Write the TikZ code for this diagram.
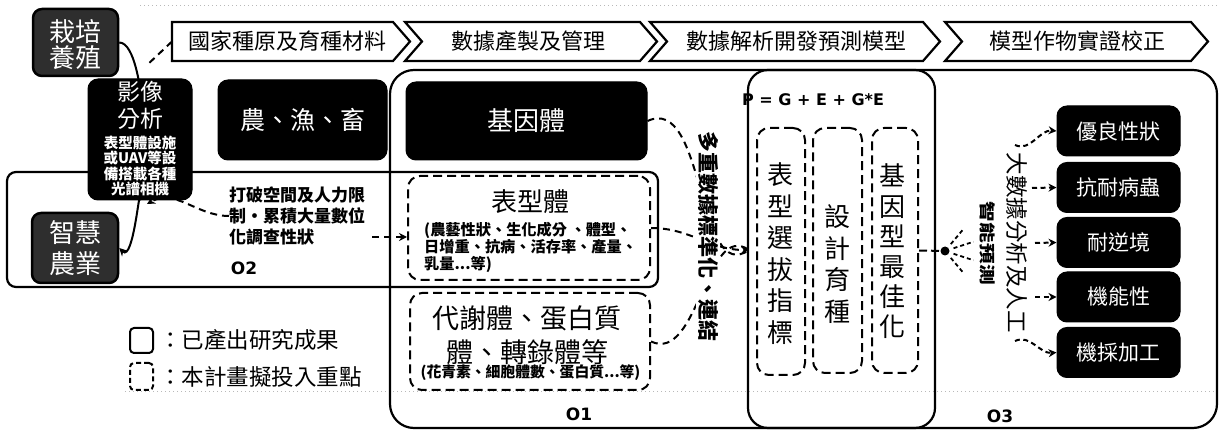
\documentclass[tikz,border=0pt]{standalone}
\usepackage{fontspec}
\setmainfont{Noto Sans CJK TC}
\newfontfamily\latb{DejaVu Sans}
\usetikzlibrary{arrows.meta,calc}
\newcommand{\myfs}[2]{\fontsize{#1}{#2}\selectfont}
\begin{document}
\begin{tikzpicture}[x=1pt,y=-1pt,
  lw/.style={line width=2.2pt},
  blk/.style={fill=black,draw=black,line width=1pt,rounded corners=10pt,text=white,inner sep=0pt},
  nz/.style={fill=black!82,draw=black,line width=2.5pt,rounded corners=9pt,inner sep=0pt},
  dbox/.style={draw,line width=2pt,dash pattern=on 9pt off 5pt,rounded corners=12pt,inner sep=0pt},
  conn/.style={line width=2pt,dash pattern=on 7pt off 5pt},
  conns/.style={line width=2pt,dash pattern=on 5pt off 3.5pt},
  tip/.style={-{Stealth[length=8pt,width=8pt]}},
  wt/.style={text=white,inner sep=0pt,align=center},
  tx/.style={inner sep=0pt,align=center},
  chev/.style={line width=2.2pt,fill=white,line join=miter},
]
\useasboundingbox (0,0) rectangle (1219,430);

% faint scan lines
\draw[gray!55,line width=0.7pt,dash pattern=on 1pt off 3pt] (140,5) -- (1219,5);
\draw[gray!55,line width=0.7pt,dash pattern=on 1pt off 3pt] (125,391) -- (1217,391);

% frames
\node[draw,lw,rounded corners=24pt,minimum width=827pt,minimum height=358pt,inner sep=0pt] (big) at (803.5,249) {};
\node[draw,lw,rounded corners=9pt,minimum width=651pt,minimum height=115pt,inner sep=0pt] (o2) at (332.5,229.5) {};
\node[draw,lw,rounded corners=20pt,minimum width=187pt,minimum height=358pt,inner sep=0pt] (pbox) at (841.5,249) {};

% banner chevrons
\draw[chev] (172,22) -- (393,22) -- (410,41.5) -- (393,61) -- (172,61) -- cycle;
\foreach \L/\R in {405/657, 650/940, 945/1208}
  \draw[chev] (\L,22) -- (\R-17,22) -- (\R,41.5) -- (\R-17,61) -- (\L,61) -- (\L+17,41.5) -- cycle;
\node[tx,font=\myfs{22}{22}] (c1) at (287.5,41.5) {國家種原及育種材料};
\node[tx,font=\myfs{22}{22}] (c2) at (528.5,41.5) {數據產製及管理};
\node[tx,font=\myfs{22}{22}] (c3) at (796,41.5) {數據解析開發預測模型};
\node[tx,font=\myfs{22}{22}] (c4) at (1077,41.5) {模型作物實證校正};
\coordinate (c1w) at (172,41.5);
\coordinate (dl) at (146,66);

% left column
\node[nz,minimum width=85pt,minimum height=67pt] (zp) at (75.5,42.5) {};
\node[wt,font=\myfs{26}{26}] (zpt) at (75.5,45) {栽培\\養殖};
\node[blk,minimum width=104pt,minimum height=121pt] (yx) at (140,139.5) {};
\node[wt,font=\myfs{23}{27}] (yxt) at (140,105.5) {影像\\分析};
\node[wt,font=\bfseries\myfs{14.5}{15.5}] (yxs) at (140,166) {表型體設施\\或UAV等設\\備搭載各種\\光譜相機};
\node[nz,minimum width=86pt,minimum height=70pt] (zh) at (75,248) {};
\node[wt,font=\myfs{26}{31}] (zht) at (75,248) {智慧\\農業};

% O1 column
\node[blk,minimum width=169pt,minimum height=80pt,font=\myfs{25}{25}] (nyc) at (302.5,120) {農、漁、畜};
\node[blk,minimum width=241pt,minimum height=78pt,font=\myfs{26}{26}] (jy) at (526.5,121) {基因體};
\node[dbox,minimum width=242pt,minimum height=104pt] (phen) at (529,228) {};
\node[tx,font=\myfs{26}{26}] (phent) at (530,202) {表型體};
\node[tx,align=left,anchor=west,font=\bfseries\myfs{15.2}{17}] (phens) at (424,247) {(農藝性狀、生化成分 、體型、\\日增重、抗病、活存率、產量、\\乳量...等)};
\node[dbox,minimum width=240pt,minimum height=97pt] (meta) at (530,341.5) {};
\node[tx,font=\myfs{27}{34}] (metat) at (527,335) {代謝體、蛋白質\\體、轉錄體等};
\node[tx,font=\bfseries\myfs{14.8}{15}] (metas) at (530.5,373) {(花青素、細胞體數、蛋白質...等)};

% O2 text
\node[tx,align=left,anchor=west,font=\bfseries\myfs{17}{21}] (o2t) at (229,216) {打破空間及人力限\\制・累積大量數位\\化調查性狀};
\node[font=\latb\bfseries\myfs{17}{17},inner sep=0pt] (o2l) at (244,268) {O2};
\node[font=\latb\bfseries\myfs{17}{17},inner sep=0pt] (o1l) at (579,414) {O1};
\node[font=\latb\bfseries\myfs{17}{17},inner sep=0pt] (o3l) at (1000,416) {O3};

% P box contents
\node[tx,font=\latb\bfseries\myfs{16}{16}] (pge) at (813,100) {P = G + E + G*E};
\node[dbox,minimum width=48pt,minimum height=247pt] (d1) at (781,251.5) {};
\node[tx,font=\myfs{26}{31.5}] (d1t) at (780,253.5) {表\\型\\選\\拔\\指\\標};
\node[dbox,minimum width=49pt,minimum height=245pt] (d2) at (837.5,250.5) {};
\node[tx,font=\myfs{26}{31.8}] (d2t) at (837,264) {設\\計\\育\\種};
\node[dbox,minimum width=46pt,minimum height=245pt] (d3) at (895,250.5) {};
\node[tx,font=\myfs{26}{30.2}] (d3t) at (892,251.5) {基\\因\\型\\最\\佳\\化};

% right boxes
\foreach \n/\y/\t in {r1/131/優良性狀, r2/187.5/抗耐病蟲, r3/242.5/耐逆境, r4/297/機能性, r5/352.5/機採加工}
  \node[blk,minimum width=123pt,minimum height=50pt,font=\myfs{21}{21}] (\n) at (1118.5,\y) {\t};

% legend
\node[draw,line width=2pt,rounded corners=4pt,minimum width=23pt,minimum height=25pt,inner sep=0pt] (lg1) at (141.5,340.5) {};
\node[tx,anchor=west,font=\myfs{22.5}{22.5}] (lg1t) at (159,340) {：已產出研究成果};
\node[draw,line width=2pt,dash pattern=on 5pt off 3pt,rounded corners=4pt,minimum width=23pt,minimum height=27pt,inner sep=0pt] (lg2) at (141.5,376.5) {};
\node[tx,anchor=west,font=\myfs{22.5}{22.5}] (lg2t) at (159,377) {：本計畫擬投入重點};

% left connectors
\draw[line width=2pt,tip] (zp.east) to[out=0,in=-90] (yx.north);
\draw[conn] (c1w) -- (dl);
\draw[line width=2pt,tip] (yx.south) to[out=90,in=-45] (zh.east);
\coordinate (yb) at (147,204);
\draw[conn,tip] (o2t.west) to[out=180,in=30] (yb);
\coordinate (pa) at (372,237);
\draw[conn,tip] (pa) -- (phen.west |- pa);

% converging to P box
\coordinate (T) at (749,250);
\draw[conn] (jy.east) to[out=25,in=-145] (T);
\draw[conn] (meta.east) to[out=-25,in=145] (T);
\draw[conn,tip] (phen.east) to[out=0,in=180] (T);
\node[tx,rotate=-90,fill=white,inner sep=1.5pt,font=\bfseries\myfs{21}{21}] (std) at (708,237) {多重數據標準化、連結};

% spray to the right
\coordinate (S) at (945,251);
\draw[line width=2pt,dash pattern=on 8pt off 4pt] (d3.east) -- (S);
\fill (S) circle (4.5pt);
\foreach \a in {-50,-18,18,50}
  \draw[line width=1.8pt,dash pattern=on 4pt off 3pt] ($(S)+(\a:9)$) -- ($(S)+(\a:30)$);
\node[tx,rotate=-90,fill=white,inner sep=1pt,font=\myfs{22.5}{22.5}] (bd1) at (1017,243) {大數據分析及人工};
\node[tx,rotate=-90,xscale=1.3,fill=white,inner sep=1pt,font=\bfseries\myfs{16}{16}] (bd2) at (987.5,243.5) {智能預測};
\coordinate (a1) at (1015,145);
\coordinate (a2) at (1032,188);
\coordinate (a3) at (1035,243);
\coordinate (a4) at (1035,297);
\coordinate (a5) at (1015,341);
\draw[conns,tip] (a1) to[out=-25,in=175] (r1.west);
\draw[conns,tip] (a2) -- (r2.west);
\draw[conns,tip] (a3) -- (r3.west);
\draw[conns,tip] (a4) -- (r4.west);
\draw[conns,tip] (a5) to[out=25,in=-175] (r5.west);
\end{tikzpicture}
\end{document}
